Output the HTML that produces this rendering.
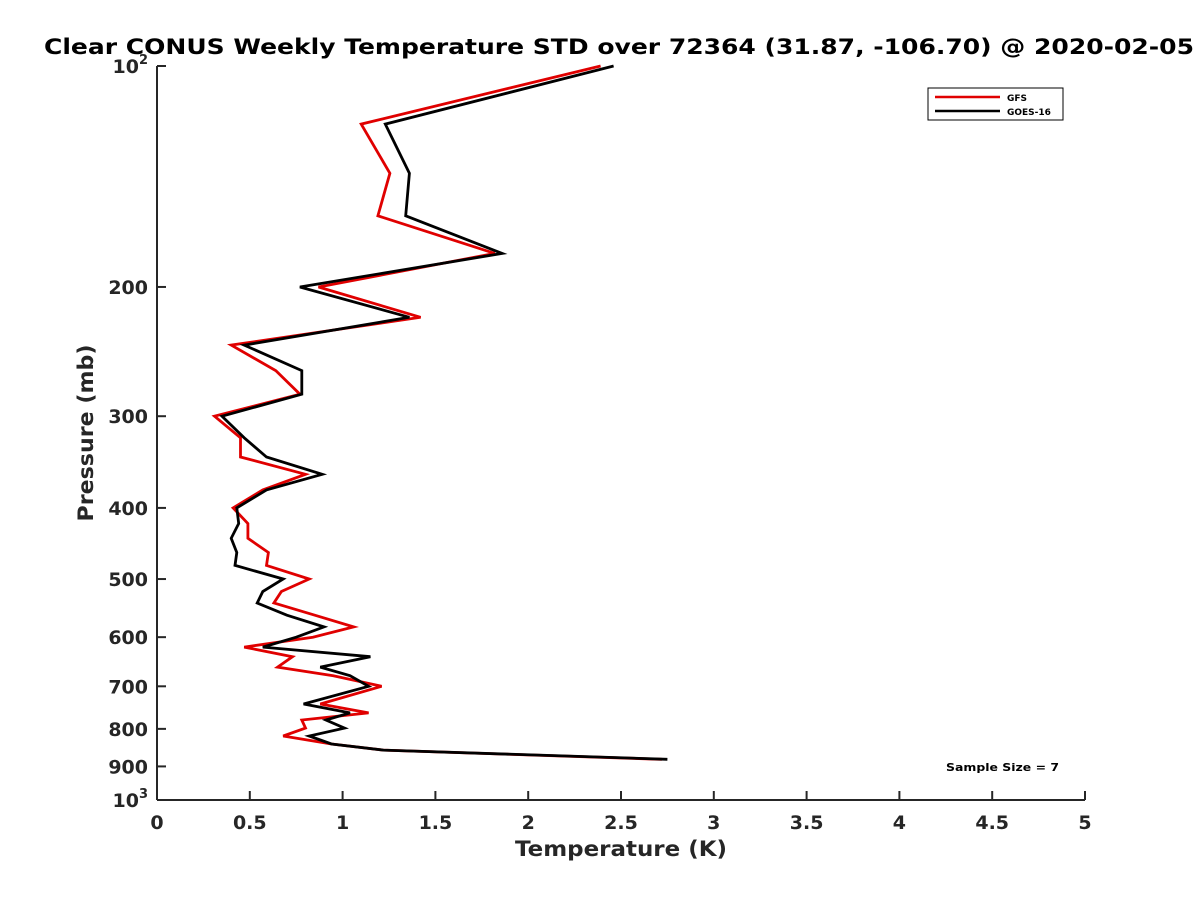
<!DOCTYPE html>
<html><head><meta charset="utf-8"><style>
body{margin:0;background:#fff;}
svg text{font-family:"DejaVu Sans","Liberation Sans",sans-serif;font-weight:bold;fill:#262626;}
</style></head><body>
<svg id="chart" width="1200" height="900" xmlns="http://www.w3.org/2000/svg">
<rect width="1200" height="900" fill="#fff"/>
<text x="619" y="54" text-anchor="middle" font-size="21" textLength="1150" lengthAdjust="spacingAndGlyphs" style="fill:#000">Clear CONUS Weekly Temperature STD over 72364 (31.87, -106.70) @ 2020-02-05</text>
<g id="axes"></g>
<g id="series"></g>
<g>
<rect x="928" y="88" width="135" height="32" fill="#fff" stroke="#000" stroke-width="1"/>
<line x1="935" y1="97" x2="1000" y2="97" stroke="#e00000" stroke-width="2.5"/>
<text x="1007" y="101" font-size="9" style="fill:#000">GFS</text>
<line x1="935" y1="111" x2="1000" y2="111" stroke="#000" stroke-width="2.5"/>
<text x="1007" y="115" font-size="9" style="fill:#000">GOES-16</text>
</g>
<text x="946" y="771" font-size="11" textLength="113" lengthAdjust="spacingAndGlyphs" style="fill:#000">Sample Size = 7</text>
<text x="621" y="856" text-anchor="middle" font-size="21" textLength="212" lengthAdjust="spacingAndGlyphs">Temperature (K)</text>
<text transform="translate(93,433) rotate(-90)" text-anchor="middle" font-size="21" textLength="177" lengthAdjust="spacingAndGlyphs">Pressure (mb)</text>
</svg>
<script>
const pressures = [100,120,140,160,180,200,220,240,260,280,300,321,341,360,378,400,420,440,460,479,500,520,539,560,581,600,619,638,659,677,700,740,761,778,798,818,839,855,880];
const gfsValues = [2.39,1.10,1.255,1.19,1.82,0.87,1.42,0.40,0.64,0.77,0.31,0.45,0.45,0.80,0.57,0.41,0.49,0.49,0.60,0.59,0.82,0.67,0.63,0.85,1.06,0.84,0.47,0.73,0.65,0.95,1.21,0.88,1.14,0.78,0.80,0.68,0.94,1.22,2.72];
const goesValues = [2.46,1.23,1.36,1.34,1.86,0.77,1.36,0.47,0.78,0.78,0.35,0.47,0.59,0.89,0.59,0.43,0.44,0.40,0.43,0.42,0.68,0.57,0.54,0.70,0.90,0.75,0.57,1.15,0.88,1.04,1.14,0.79,1.04,0.91,1.01,0.82,0.94,1.22,2.75];
const xTicks = [0,0.5,1,1.5,2,2.5,3,3.5,4,4.5,5];
const xTickLabels = ["0","0.5","1","1.5","2","2.5","3","3.5","4","4.5","5"];
const yTicks = [100,200,300,400,500,600,700,800,900,1000];
const yTickLabels = ["10^2","200","300","400","500","600","700","800","900","10^3"];

const X0=157,X1=1085,Y0=66,Y1=800;
const xs=v=>X0+(v-0)/(5-0)*(X1-X0);
const ys=p=>Y0+(Math.log10(p)-2)/1*(Y1-Y0);
const NS="http://www.w3.org/2000/svg";
function mk(tag,attrs,parent){const e=document.createElementNS(NS,tag);for(const k in attrs)e.setAttribute(k,attrs[k]);parent.appendChild(e);return e;}
const axes=document.getElementById('axes');
const ax=mk('line',{x1:X0,y1:Y0,x2:X0,y2:Y1,stroke:'#262626','stroke-width':2},axes);


const bx=mk('line',{x1:X0,y1:Y1,x2:X1,y2:Y1,stroke:'#262626','stroke-width':2},axes);


xTicks.forEach((v,i)=>{
  const t=mk('line',{x1:xs(v),y1:Y1,x2:xs(v),y2:Y1-9,stroke:'#262626','stroke-width':2},axes);
  
  
  const l=mk('text',{x:xs(v),y:Y1+29,'text-anchor':'middle','font-size':19},axes);
  
  
  l.textContent=xTickLabels[i];
});
yTicks.forEach((p,i)=>{
  const y=ys(p);
  const t=mk('line',{x1:X0,y1:y,x2:X0+9,y2:y,stroke:'#262626','stroke-width':2},axes);
  
  
  const l=mk('text',{x:X0-9,y:y+7,'text-anchor':'end','font-size':19},axes);
  
  
  const s=yTickLabels[i];
  if(s.indexOf('^')>=0){const [b,e]=s.split('^');l.textContent=b;const sp=mk('tspan',{dy:-9,'font-size':13},l);sp.textContent=e;}
  else l.textContent=s;
});
const ser=document.getElementById('series');
function line(vals,color,name){
  const pts=vals.map((v,i)=>xs(v).toFixed(1)+','+ys(pressures[i]).toFixed(1)).join(' ');
  const pl=mk('polyline',{points:pts,fill:'none',stroke:color,'stroke-width':2.8,'stroke-linejoin':'miter'},ser);
  
  
}
line(gfsValues,'#e00000','gfs-line');
line(goesValues,'#000000','goes16-line');
</script>
</body></html>
